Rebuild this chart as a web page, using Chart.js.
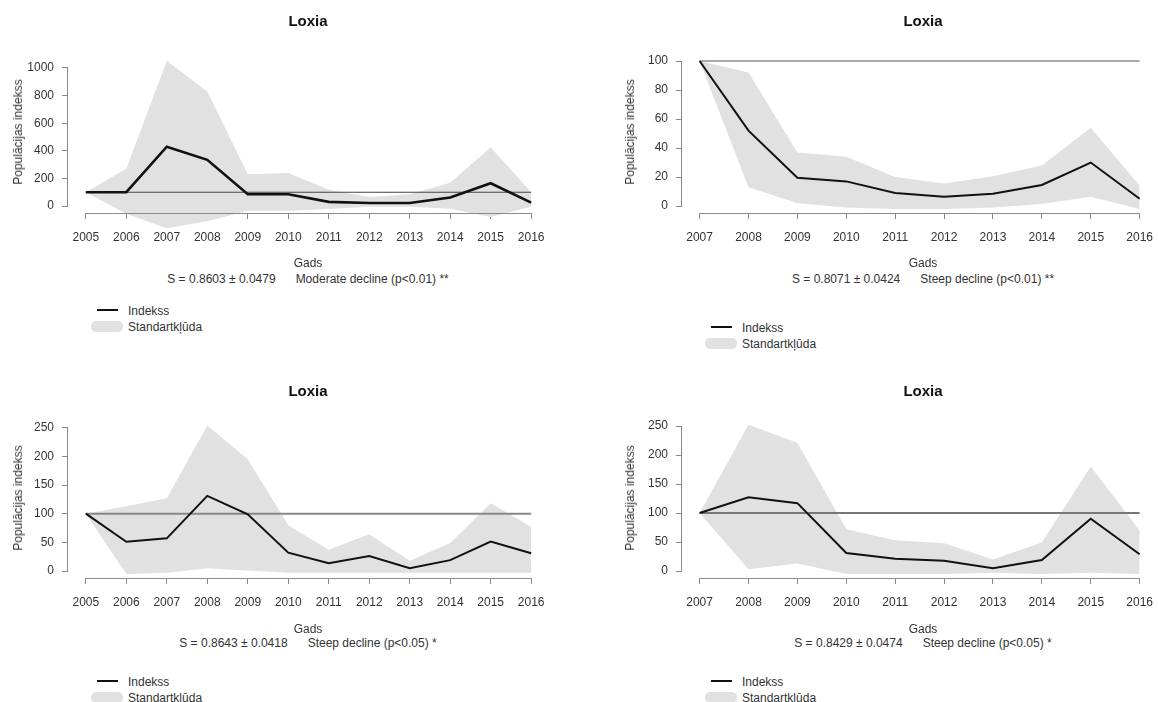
<!DOCTYPE html>
<html>
<head>
<meta charset="utf-8">
<script src="https://cdn.jsdelivr.net/npm/chart.js@4.4.1/dist/chart.umd.min.js"></script>
<style>
  body { margin: 0; background: #fff; width: 1158px; height: 702px; overflow: hidden; position: relative;
         font-family: "Liberation Sans", Arial, sans-serif; color: #333; }
  canvas { position: absolute; }
  .t { position: absolute; white-space: pre; transform: translate(-50%, -50%); font-size: 12px; line-height: 1; }
  .title { font-weight: bold; font-size: 15px; color: #111; }
  .ylab { transform: translate(-50%, -50%) rotate(-90deg); }
  .lt { position: absolute; white-space: pre; transform: translateY(-50%); font-size: 12px; line-height: 1; }
  .swatch { position: absolute; }
</style>
</head>
<body>
<script>
// years
const years0516 = [2005, 2006, 2007, 2008, 2009, 2010, 2011, 2012, 2013, 2014, 2015, 2016];
const years0716 = [2007, 2008, 2009, 2010, 2011, 2012, 2013, 2014, 2015, 2016];
const baseLevel = 100;

// panel 1 (2005-2016)
const p1Index = [100, 100, 430, 335, 85, 85, 30, 22, 22, 62, 165, 25];
const p1Upper = [100, 270, 1050, 830, 230, 240, 118, 65, 85, 168, 425, 100];
const p1Lower = [100, -55, -160, -110, -35, -35, -22, -5, -5, -20, -80, -5];
const p1Ticks = [0, 200, 400, 600, 800, 1000];

// panel 2 (2007-2016)
const p2Index = [100, 52, 19.5, 17, 9, 6.5, 8.5, 14.5, 30, 5];
const p2Upper = [100, 92, 37, 34, 20, 15.5, 20.5, 28, 54, 14];
const p2Lower = [100, 13, 2, -1, -2, -2, -1, 1.5, 6.5, -2];
const p2Ticks = [0, 20, 40, 60, 80, 100];

// panel 3 (2005-2016)
const p3Index = [100, 51, 57, 131, 99, 32, 13.5, 26, 5, 19, 51.5, 31];
const p3Upper = [100, 113, 127, 254, 195, 80, 37, 64, 18, 49, 118, 77];
const p3Lower = [100, -5, -3, 5, 1, -3, -3, -3, -3, -3, -3, -3];
const p3Ticks = [0, 50, 100, 150, 200, 250];

// panel 4 (2007-2016)
const p4Index = [100, 127, 117, 31, 21, 17.5, 5, 19, 90, 29];
const p4Upper = [100, 252, 221, 72, 53, 48, 20, 49, 180, 70];
const p4Lower = [100, 3, 13, -5, -5, -5, -3, -5, -3, -5];
const p4Ticks = [0, 50, 100, 150, 200, 250];

const species = "Loxia";
const yTitle = "Populācijas indekss";
const xTitle = "Gads";
const legendLabels = ["Indekss", "Standartkļūda"];
const slopeText = ["S = 0.8603 ± 0.0479", "S = 0.8071 ± 0.0424", "S = 0.8643 ± 0.0418", "S = 0.8429 ± 0.0474"];
const trendText = ["Moderate decline (p<0.01) **", "Steep decline (p<0.01) **", "Steep decline (p<0.05) *", "Steep decline (p<0.05) *"];

const BAND = "#e1e1e1";
const AXIS = "#8a8a8a";
const FONT = "'Liberation Sans', Arial, sans-serif";

const panels = [
  { years: years0516, index: p1Index, upper: p1Upper, lower: p1Lower, ticks: p1Ticks,
    box: { left: 0, top: 0, w: 560, h: 260 }, area: { left: 68, right: 549, top: 51, bottom: 240 },
    x: [2004.56, 2016.44], y: [-246, 1123], axisAt: -51,
    lineW: 2.6, refColor: "#444", refW: 1.2,
    text: { cx: 308, title: 20, ylabX: 18, ylabY: 132, gads: 263, stats: 279, legX: 91, legY: 310 } },
  { years: years0716, index: p2Index, upper: p2Upper, lower: p2Lower, ticks: p2Ticks,
    box: { left: 560, top: 0, w: 604, h: 260 }, area: { left: 682, right: 1164, top: 51, bottom: 240 },
    x: [2006.64, 2016.36], y: [-23.4, 106.9], axisAt: -4.8,
    lineW: 2, refColor: "#aaa", refW: 2,
    text: { cx: 923, title: 20, ylabX: 630, ylabY: 132, gads: 263, stats: 279, legX: 705, legY: 327 } },
  { years: years0516, index: p3Index, upper: p3Upper, lower: p3Lower, ticks: p3Ticks,
    box: { left: 0, top: 360, w: 560, h: 260 }, area: { left: 68, right: 549, top: 418, bottom: 585 },
    x: [2004.56, 2016.44], y: [-24.4, 266.9], axisAt: -12.2,
    lineW: 2, refColor: "#888", refW: 2,
    text: { cx: 308, title: 390, ylabX: 18, ylabY: 498, gads: 629, stats: 643, legX: 91, legY: 681 } },
  { years: years0716, index: p4Index, upper: p4Upper, lower: p4Lower, ticks: p4Ticks,
    box: { left: 560, top: 360, w: 604, h: 260 }, area: { left: 682, right: 1164, top: 418, bottom: 585 },
    x: [2006.64, 2016.36], y: [-24.1, 263.8], axisAt: -12.1,
    lineW: 2, refColor: "#777", refW: 1.8,
    text: { cx: 923, title: 390, ylabX: 630, ylabY: 498, gads: 629, stats: 643, legX: 705, legY: 681 } }
];

function addText(cls, txt, x, y, extra) {
  const d = document.createElement("div");
  d.className = cls;
  d.textContent = txt;
  d.style.left = x + "px";
  d.style.top = y + "px";
  if (extra) Object.assign(d.style, extra);
  document.body.appendChild(d);
  return d;
}

const pts = (xs, ys) => xs.map((x, i) => ({ x: x, y: ys[i] }));

// R style axis lines: only from the first to the last tick
const rAxes = {
  id: "rAxes",
  afterDraw(chart) {
    const { ctx, chartArea } = chart;
    const xs = chart.scales.x, ys = chart.scales.y;
    const xt = xs.ticks, yt = ys.ticks;
    const axisY = Math.round(ys.getPixelForValue(chart.options.scales.x.position.y)) + 0.5;
    ctx.save();
    ctx.strokeStyle = AXIS;
    ctx.lineWidth = 1;
    ctx.beginPath();
    ctx.moveTo(xs.getPixelForValue(xt[0].value), axisY);
    ctx.lineTo(xs.getPixelForValue(xt[xt.length - 1].value), axisY);
    const ax = Math.round(chartArea.left) - 0.5;
    ctx.moveTo(ax, ys.getPixelForValue(yt[0].value));
    ctx.lineTo(ax, ys.getPixelForValue(yt[yt.length - 1].value));
    ctx.stroke();
    ctx.restore();
  }
};

panels.forEach((p, k) => {
  const c = document.createElement("canvas");
  c.width = p.box.w;
  c.height = p.box.h;
  c.style.left = p.box.left + "px";
  c.style.top = p.box.top + "px";
  document.body.appendChild(c);

  const yWidth = p.area.left - p.box.left;
  new Chart(c, {
    type: "line",
    data: {
      datasets: [
        { label: legendLabels[0], data: pts(p.years, p.index), borderColor: "#111", borderWidth: p.lineW,
          pointRadius: 0, fill: false, tension: 0, clip: false },
        { label: "100", data: pts([p.years[0], p.years[p.years.length - 1]], [baseLevel, baseLevel]),
          borderColor: p.refColor, borderWidth: p.refW, pointRadius: 0, fill: false },
        { label: legendLabels[1], data: pts(p.years, p.upper), borderWidth: 0, borderColor: BAND,
          backgroundColor: BAND, pointRadius: 0, fill: "+1", tension: 0 },
        { label: "lower", data: pts(p.years, p.lower), borderWidth: 0, borderColor: BAND,
          pointRadius: 0, fill: false, tension: 0 }
      ]
    },
    options: {
      responsive: false,
      animation: false,
      events: [],
      layout: { padding: { left: 0, top: p.area.top - p.box.top, right: p.box.left + p.box.w - p.area.right,
                           bottom: p.box.top + p.box.h - p.area.bottom } },
      plugins: { legend: { display: false }, tooltip: { enabled: false }, filler: { drawTime: "beforeDatasetsDraw" } },
      scales: {
        x: {
          type: "linear", position: { y: p.axisAt }, min: p.x[0], max: p.x[1],
          afterBuildTicks: (s) => { s.ticks = p.years.map((v) => ({ value: v })); },
          border: { display: false },
          grid: { drawOnChartArea: false, drawTicks: true, tickLength: 6, color: AXIS },
          ticks: { callback: (v) => String(v), color: "#333", font: { family: FONT, size: 12 }, padding: 11,
                   maxRotation: 0, autoSkip: false }
        },
        y: {
          type: "linear", position: "left", min: p.y[0], max: p.y[1],
          afterBuildTicks: (s) => { s.ticks = p.ticks.map((v) => ({ value: v })); },
          afterFit: (s) => { s.width = yWidth; },
          border: { display: false },
          grid: { drawOnChartArea: false, drawTicks: true, tickLength: 6, color: AXIS },
          ticks: { callback: (v) => String(v), color: "#333", font: { family: FONT, size: 12 }, padding: 8 }
        }
      }
    },
    plugins: [rAxes]
  });

  const t = p.text;
  addText("t title", species, t.cx, t.title);
  addText("t ylab", yTitle, t.ylabX, t.ylabY);
  addText("t", xTitle, t.cx, t.gads);
  addText("t", slopeText[k] + "      " + trendText[k], t.cx, t.stats);

  // legend
  const line = document.createElement("div");
  line.className = "swatch";
  Object.assign(line.style, { left: (t.legX + 6) + "px", top: (t.legY - p.lineW / 2) + "px", width: "21px",
    height: p.lineW + "px", background: "#111" });
  document.body.appendChild(line);
  const sw = document.createElement("div");
  sw.className = "swatch";
  Object.assign(sw.style, { left: t.legX + "px", top: (t.legY + 11) + "px", width: "32px", height: "11px",
    background: BAND, borderRadius: "5px" });
  document.body.appendChild(sw);
  addText("lt", legendLabels[0], t.legX + 37, t.legY + 1);
  addText("lt", legendLabels[1], t.legX + 37, t.legY + 17);
});
</script>
</body>
</html>
